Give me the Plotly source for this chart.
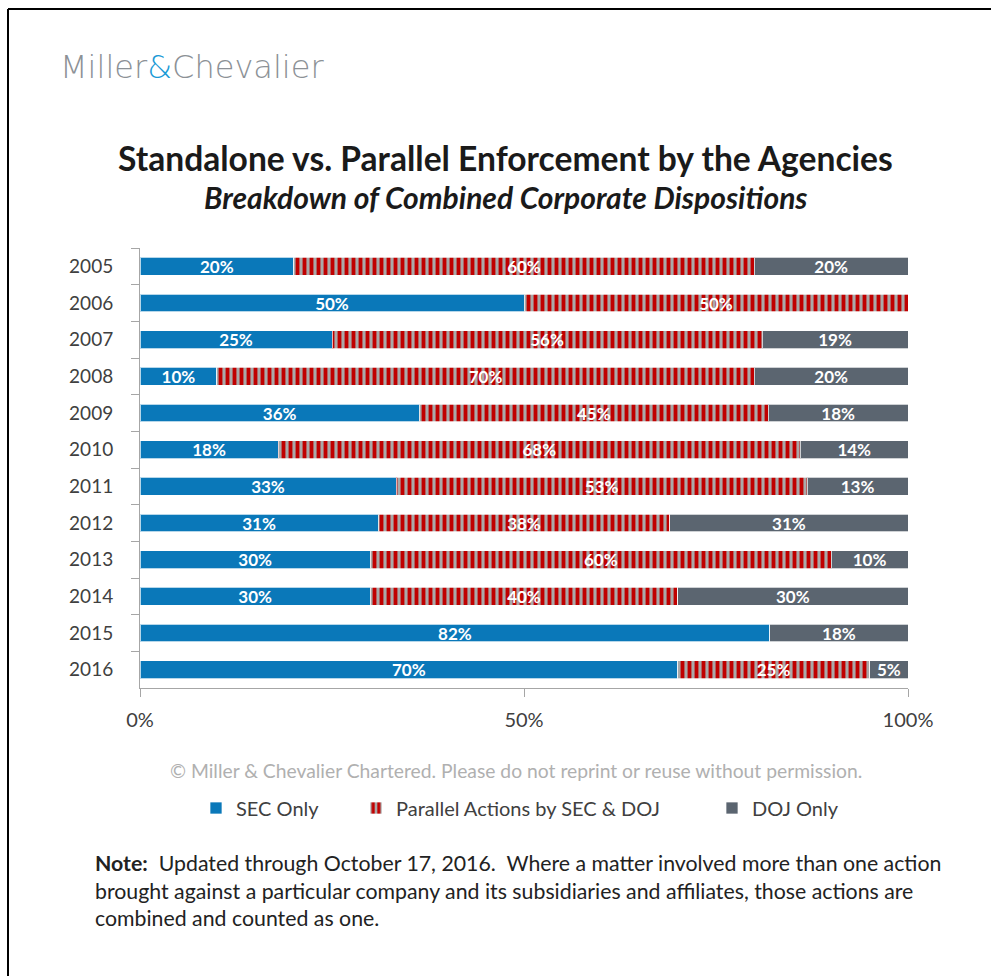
import plotly.graph_objects as go

years = ["2005", "2006", "2007", "2008", "2009", "2010",
         "2011", "2012", "2013", "2014", "2015", "2016"]
sec_only = [20, 50, 25, 10, 36, 18, 33, 31, 30, 30, 82, 70]
parallel = [60, 50, 56, 70, 45, 68, 53, 38, 60, 40, 0, 25]
doj_only = [20, 0, 19, 20, 18, 14, 13, 31, 10, 30, 18, 5]
series_names = ["SEC Only", "Parallel Actions by SEC & DOJ", "DOJ Only"]
x_tickvals = [0, 50, 100]
x_ticktext = ["0%", "50%", "100%"]

W, H = 991, 976
L, R, T, B = 140, 908, 248, 688  # plot area in pixels


def px2x(px):
    return (px - L) / (R - L)


def px2y(py):
    return (B - py) / (B - T)


def lbl(v):
    return [f"{x}%" if x else "" for x in v]


def clean(v):
    return [x if x else None for x in v]


FONT = "Lato"
fig = go.Figure()
fig.add_trace(go.Bar(
    y=years, x=clean(sec_only), orientation="h", name=series_names[0],
    marker=dict(color="#0a78b9", line=dict(color="rgba(255,255,255,0.7)", width=1)),
    text=lbl(sec_only), legend="legend",
))
fig.add_trace(go.Bar(
    y=years, x=clean(parallel), orientation="h", name=series_names[1],
    marker=dict(color="#c00000",
                line=dict(color="rgba(255,255,255,0.7)", width=1),
                pattern=dict(shape="|", fgcolor="#c00000", bgcolor="#a9a9a9",
                             size=7, solidity=0.55, fillmode="replace")),
    text=lbl(parallel), legend="legend2",
))
fig.add_trace(go.Bar(
    y=years, x=clean(doj_only), orientation="h", name=series_names[2],
    marker=dict(color="#5b6570", line=dict(color="rgba(255,255,255,0.7)", width=1)),
    text=lbl(doj_only), legend="legend3",
))
fig.update_traces(textposition="inside", insidetextanchor="middle", textangle=0,
                  constraintext="none",
                  textfont=dict(family=FONT, size=17, color="white", weight="bold"),
                  hoverinfo="skip")

leg_common = dict(orientation="h", xanchor="left", y=px2y(808), yanchor="middle",
                  font=dict(family=FONT, size=20, color="#404040"),
                  bgcolor="rgba(0,0,0,0)", borderwidth=0)

fig.update_layout(
    width=W, height=H,
    margin=dict(l=L, r=W - R, t=T, b=H - B, pad=0),
    paper_bgcolor="white", plot_bgcolor="white",
    barmode="stack", barnorm="percent", bargap=0.51,
    font=dict(family=FONT, color="#404040"),
    xaxis=dict(range=[0, 100], tickvals=x_tickvals, ticktext=x_ticktext,
               showgrid=False, zeroline=False, showline=True, linecolor="#a6a6a6",
               linewidth=1, ticks="outside", ticklen=8, tickcolor="#a6a6a6",
               tickfont=dict(size=20, color="#404040"), ticklabelstandoff=6,
               fixedrange=True),
    yaxis=dict(autorange="reversed", type="category", showgrid=False,
               showline=True, linecolor="#a6a6a6", linewidth=1,
               ticks="outside", ticklen=8, tickcolor="#a6a6a6", tickson="boundaries",
               tickfont=dict(size=19, color="#404040"), ticklabelstandoff=22,
               fixedrange=True),
    showlegend=True,
    legend=dict(x=px2x(214 - 18), **leg_common),
    legend2=dict(x=px2x(374 - 18), **leg_common),
    legend3=dict(x=px2x(730 - 18), **leg_common),
)

# frame lines
fig.add_shape(type="line", xref="paper", yref="paper",
              x0=px2x(8), x1=px2x(1000), y0=px2y(9), y1=px2y(9),
              line=dict(color="black", width=2))
fig.add_shape(type="line", xref="paper", yref="paper",
              x0=px2x(8), x1=px2x(8), y0=px2y(9), y1=px2y(990),
              line=dict(color="black", width=2))

ann = []
ann.append(dict(text="Miller<span style='color:#1a9ad6'>&</span>Chevalier",
                x=px2x(58), y=px2y(67), xanchor="left", yanchor="middle",
                font=dict(family="DejaVu Sans", size=32, color="#8c9196", weight=200)))
ann.append(dict(text="<b>Standalone vs. Parallel Enforcement by the Agencies</b>",
                x=px2x(505), y=px2y(158), xanchor="center", yanchor="middle",
                font=dict(family=FONT, size=33.6, color="#1a1a1a")))
ann.append(dict(text="<b><i>Breakdown of Combined Corporate Dispositions</i></b>",
                x=px2x(506), y=px2y(197), xanchor="center", yanchor="middle",
                font=dict(family=FONT, size=30, color="#1a1a1a")))
ann.append(dict(text="© Miller & Chevalier Chartered. Please do not reprint or reuse without permission.",
                x=px2x(516), y=px2y(770), xanchor="center", yanchor="middle",
                font=dict(family=FONT, size=19.3, color="#b0b0b0")))
ann.append(dict(text="<b>Note:</b>  Updated through October 17, 2016.  Where a matter involved more than one action<br>"
                     "brought against a particular company and its subsidiaries and affiliates, those actions are<br>"
                     "combined and counted as one.",
                x=px2x(93), y=px2y(848), xanchor="left", yanchor="top", align="left",
                font=dict(family=FONT, size=21.3, color="#222222")))
for a in ann:
    a.update(xref="paper", yref="paper", showarrow=False)
fig.update_layout(annotations=ann)

fig.write_html("out.html", config={"displayModeBar": False},
               post_script="document.body.style.margin='0';")
